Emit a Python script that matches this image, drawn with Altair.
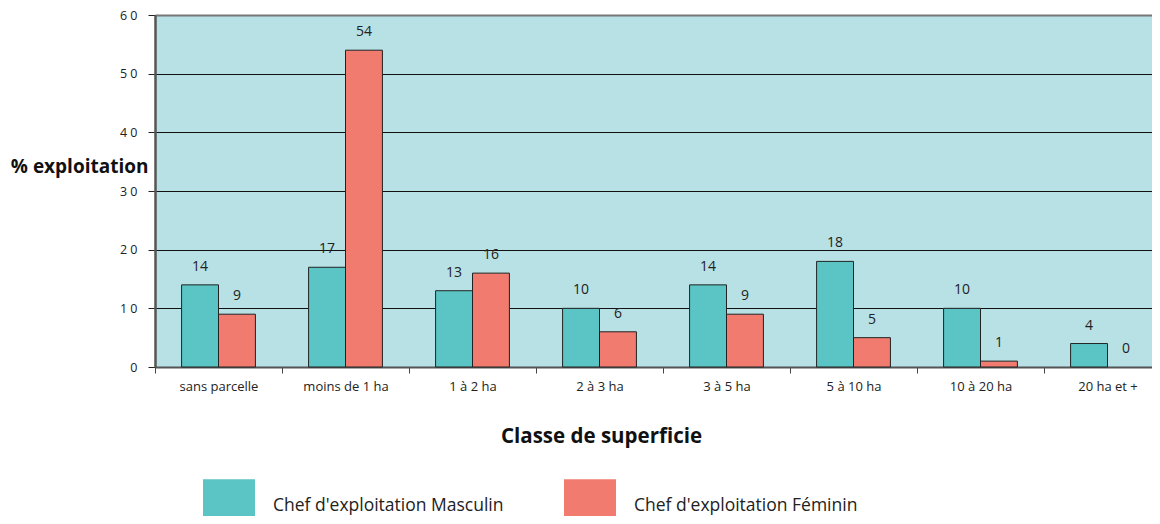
import altair as alt
import pandas as pd

categories = ["sans parcelle", "moins de 1 ha", "1 à 2 ha", "2 à 3 ha",
              "3 à 5 ha", "5 à 10 ha", "10 à 20 ha", "20 ha et +"]
series = ["Chef d'exploitation Masculin", "Chef d'exploitation Féminin"]
masculin = [14, 17, 13, 10, 14, 18, 10, 4]
feminin = [9, 54, 16, 6, 9, 5, 1, 0]
colors = ["#5BC5C6", "#F27B70"]

rows = []
for c, m, f in zip(categories, masculin, feminin):
    rows.append({"classe": c, "serie": series[0], "valeur": m})
    rows.append({"classe": c, "serie": series[1], "valeur": f})
df = pd.DataFrame(rows)

FONT = "Open Sans"

x = alt.X("classe:N", sort=categories,
          scale=alt.Scale(paddingInner=0, paddingOuter=0, range=[0, 1016]),
          axis=alt.Axis(title="Classe de superficie", labelAngle=0,
                        tickBand="extent", tickSize=6, tickColor="#444",
                        labelPadding=7, labelFontSize=13, labelColor="#222",
                        labelFont=FONT, domainColor="#555", domainWidth=2,
                        titleFont=FONT, titleFontSize=20.5, titleFontWeight="bold",
                        titleColor="#111", titleX=446, titleY=75,
                        titleAlign="center", titleBaseline="alphabetic",
                        grid=False))
xoff = alt.XOffset("serie:N", sort=series, scale=alt.Scale(paddingOuter=0.72, paddingInner=0))
y = alt.Y("valeur:Q",
          scale=alt.Scale(domain=[0, 60], nice=False),
          axis=alt.Axis(title="% exploitation", values=[0, 10, 20, 30, 40, 50, 60],
                        labelExpr="datum.value == 0 ? '0' : (datum.value / 10) + ' 0'",
                        tickSize=7, tickColor="#222", labelPadding=11,
                        labelFontSize=12.5, labelColor="#222", labelFont=FONT,
                        domainColor="#555", domainWidth=2.5,
                        grid=True,
                        gridColor={"condition": {"test": "datum.value == 60", "value": "#777"}, "value": "#111"},
                        gridWidth={"condition": {"test": "datum.value == 60", "value": 2}, "value": 1},
                        titleFont=FONT, titleFontSize=19, titleFontWeight="bold",
                        titleColor="#111", titleAngle=0, titleX=-7, titleY=157,
                        titleAlign="right", titleBaseline="alphabetic"))
color = alt.Color("serie:N", sort=series,
                  scale=alt.Scale(domain=series, range=colors),
                  legend=alt.Legend(title=None, orient="none", direction="horizontal",
                                    legendX=48, legendY=464.5, padding=0,
                                    symbolType="M-1,-1.02H1V0.40H-1Z",
                                    symbolSize=2704, symbolStrokeWidth=0,
                                    symbolOpacity=1,
                                    labelFont=FONT, labelFontSize=17.5,
                                    labelColor="#222", labelOffset=18,
                                    labelBaseline="middle", labelLimit=400,
                                    columnPadding=60))

bars = alt.Chart(df).transform_filter("datum.valeur > 0").mark_bar(
    stroke="#222", strokeWidth=1, opacity=1
).encode(x=x, xOffset=xoff, y=y, color=color)
labels = alt.Chart(df).mark_text(baseline="middle", dy=-18, fontSize=14,
                                 font=FONT, color="#222").encode(
    x=alt.X("classe:N", sort=categories), xOffset=alt.XOffset("serie:N", sort=series),
    y="valeur:Q", text="valeur:Q"
)

chart = alt.layer(bars, labels).properties(
    width=997, height=352,
    autosize=alt.AutoSizeParams(type="none"),
    padding={"left": 147, "top": 7, "right": 0, "bottom": 149},
    background="white",
).configure_view(fill="#B7E1E4", stroke=None)

chart.save("out.html", embed_options={"renderer": "svg", "actions": False})
